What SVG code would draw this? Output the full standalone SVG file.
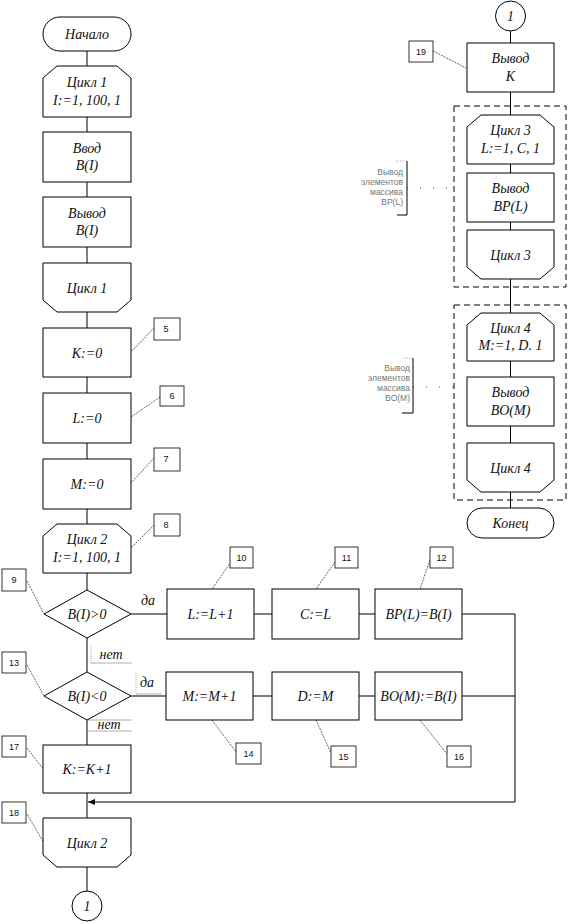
<svg xmlns="http://www.w3.org/2000/svg" width="569" height="924" viewBox="0 0 569 924">
<style>
.b{fill:#fff;stroke:#000;stroke-width:1}
.t{font-family:"Liberation Serif","Times New Roman",serif;font-style:italic;font-size:14px;text-anchor:middle;fill:#111}
.n{font-family:"Liberation Sans",Arial,sans-serif;font-size:9px;text-anchor:middle;fill:#111}
.lb{fill:#fff;stroke:#000;stroke-width:0.8}
.ld{stroke:#222;stroke-width:0.7;stroke-dasharray:2 1;fill:none}
.c{stroke:#000;stroke-width:1;fill:none}
.g{stroke:#999;stroke-width:0.8;fill:none}
.gd{stroke:#999;stroke-width:0.8;stroke-dasharray:1 1;fill:none}
.dash{fill:none;stroke:#000;stroke-width:1;stroke-dasharray:6 4}
.ann{font-family:"Liberation Sans",Arial,sans-serif;font-size:8.5px;fill:#777;text-anchor:end}
.dot{stroke:#444;stroke-width:1;stroke-dasharray:1 12;fill:none}
</style>
<defs>
<marker id="arr" markerWidth="8" markerHeight="6" refX="7" refY="3" orient="auto" markerUnits="userSpaceOnUse">
<path d="M0,0 L7,3 L0,6 Z" fill="#000"/>
</marker>
</defs>

<g id="connectors">
<path class="c" d="M87,51 V66 M87,117 V132 M87,182 V197 M87,247 V263 M87,312 V328 M87,377 V393 M87,443 V459 M87,509 V524 M87,573 V590 M87,638 V672 M87,720 V745 M87,793 V818 M87,867 V891"/>
<path class="c" d="M131,614 H167 M254,614 H272 M359,614 H375 M462,614 H515 V802 H88" marker-end="url(#arr)"/>
<path class="c" d="M131,696 H166 M253,696 H272 M359,696 H375 M462,696 H515"/>
<path class="c" d="M510.5,31 V43 M510.5,92 V115 M510.5,164 V173 M510.5,222 V230 M510.5,279 V313 M510.5,361 V377 M510.5,426 V443 M510.5,492 V508"/>
<path class="g" d="M91,663 H132 M136,694 H162 M87,720 H132 M87,731 H132"/>
<path class="gd" d="M91,646 V663 M136,673 V694"/>
<path class="ld" d="M154,328 L131,352 M160,397 L131,417 M154,458 L131,483 M154,525 L131,548 M27,581 L44,614 M231,562 L212,589 M335,562 L316,589 M430,560 L420,589 M27,665 L44,696 M212,720 L236,752 M316,720 L331,753 M420,720 L447,754 M27,748 L44,770 M27,814 L44,843 M433,51 L466,68"/>
<path class="dot" d="M407,188 H454 M413,387 H454"/>
<path class="gd" d="M396,161 H407"/>
<path class="c" d="M407,161 V215 H397"/>
<path class="gd" d="M403,358 H413"/>
<path class="c" d="M413,358 V413 H402"/>
</g>

<g id="start"><rect class="b" x="43" y="17" width="88" height="34" rx="17"/><text class="t" x="87" y="39">Начало</text></g>
<g id="loop1"><path class="b" d="M43,78 L57,66 H117 L131,78 V117 H43 Z"/><text class="t" x="87" y="87">Цикл 1</text><text class="t" x="87" y="104.5">I:=1, 100, 1</text></g>
<g id="input"><rect class="b" x="43" y="132" width="88" height="50"/><text class="t" x="87" y="152.5">Ввод</text><text class="t" x="87" y="170">B(I)</text></g>
<g id="output1"><rect class="b" x="43" y="197" width="88" height="50"/><text class="t" x="87" y="217.5">Вывод</text><text class="t" x="87" y="235">B(I)</text></g>
<g id="loop1end"><path class="b" d="M43,263 H131 V300 L117,312 H57 L43,300 Z"/><text class="t" x="87" y="292.5">Цикл 1</text></g>
<g id="k0"><rect class="b" x="43" y="328" width="88" height="49"/><text class="t" x="87" y="357.5">K:=0</text><rect class="lb" x="154" y="318" width="26" height="22"/><text class="n" x="166" y="332">5</text></g>
<g id="l0"><rect class="b" x="43" y="393" width="88" height="50"/><text class="t" x="87" y="423">L:=0</text><rect class="lb" x="160" y="386" width="24" height="20"/><text class="n" x="172" y="399">6</text></g>
<g id="m0"><rect class="b" x="43" y="459" width="88" height="50"/><text class="t" x="87" y="489">M:=0</text><rect class="lb" x="154" y="448" width="26" height="23"/><text class="n" x="166" y="462">7</text></g>
<g id="loop2"><path class="b" d="M43,536 L57,524 H117 L131,536 V573 H43 Z"/><text class="t" x="87" y="544">Цикл 2</text><text class="t" x="87" y="561.5">I:=1, 100, 1</text><rect class="lb" x="154" y="514" width="26" height="22"/><text class="n" x="166" y="528">8</text></g>
<g id="dec1"><path class="b" d="M87,590 L131,614 L87,638 L44,614 Z"/><text class="t" x="87" y="619">B(I)&gt;0</text><rect class="lb" x="2" y="569" width="24" height="22"/><text class="n" x="14" y="583">9</text><text class="t" x="148" y="605">да</text><text class="t" x="111" y="659">нет</text></g>
<g id="lplus"><rect class="b" x="167" y="589" width="87" height="50"/><text class="t" x="210.5" y="619">L:=L+1</text><rect class="lb" x="230" y="547" width="23" height="21"/><text class="n" x="241.5" y="560.5">10</text></g>
<g id="cl"><rect class="b" x="272" y="589" width="87" height="50"/><text class="t" x="315.5" y="619">C:=L</text><rect class="lb" x="335" y="547" width="23" height="21"/><text class="n" x="346.5" y="560.5">11</text></g>
<g id="bp"><rect class="b" x="375" y="589" width="87" height="50"/><text class="t" x="418.5" y="619">BP(L)=B(I)</text><rect class="lb" x="430" y="547" width="23" height="21"/><text class="n" x="441.5" y="560.5">12</text></g>
<g id="dec2"><path class="b" d="M87,672 L131,696 L87,720 L44,696 Z"/><text class="t" x="87" y="701">B(I)&lt;0</text><rect class="lb" x="2" y="652" width="24" height="21"/><text class="n" x="14" y="665.5">13</text><text class="t" x="147" y="687">да</text><text class="t" x="109" y="729">нет</text></g>
<g id="mplus"><rect class="b" x="166" y="672" width="87" height="48"/><text class="t" x="209.5" y="701">M:=M+1</text><rect class="lb" x="236" y="743" width="25" height="21"/><text class="n" x="248.5" y="756.5">14</text></g>
<g id="dm"><rect class="b" x="272" y="672" width="87" height="48"/><text class="t" x="315.5" y="701">D:=M</text><rect class="lb" x="331" y="746" width="25" height="21"/><text class="n" x="343.5" y="759.5">15</text></g>
<g id="bo"><rect class="b" x="375" y="672" width="87" height="48"/><text class="t" x="418.5" y="701">BO(M):=B(I)</text><rect class="lb" x="447" y="746" width="24" height="21"/><text class="n" x="459" y="759.5">16</text></g>
<g id="kplus"><rect class="b" x="43" y="745" width="88" height="48"/><text class="t" x="87" y="774">K:=K+1</text><rect class="lb" x="2" y="736" width="24" height="21"/><text class="n" x="14" y="749.5">17</text></g>
<g id="loop2end"><path class="b" d="M43,818 H131 V855 L117,867 H57 L43,855 Z"/><text class="t" x="87" y="847.5">Цикл 2</text><rect class="lb" x="2" y="802" width="24" height="21"/><text class="n" x="14" y="815.5">18</text></g>
<g id="conn1"><circle class="b" cx="87" cy="906" r="15"/><text class="t" x="87" y="911">1</text></g>

<g id="conn2"><circle class="b" cx="510.5" cy="16" r="15"/><text class="t" x="510.5" y="21">1</text></g>
<g id="outk"><rect class="b" x="467" y="43" width="87" height="49"/><text class="t" x="510.5" y="63">Вывод</text><text class="t" x="510.5" y="80.5">K</text><rect class="lb" x="409" y="41" width="24" height="21"/><text class="n" x="421" y="54.5">19</text></g>
<g id="grp1"><rect class="dash" x="454" y="106" width="112" height="181"/>
<text class="ann" x="403" y="175">Вывод</text><text class="ann" x="403" y="185">элементов</text><text class="ann" x="403" y="195">массива</text><text class="ann" x="403" y="205">BP(L)</text></g>
<g id="loop3"><path class="b" d="M467,127 L481,115 H540 L554,127 V164 H467 Z"/><text class="t" x="510.5" y="135">Цикл 3</text><text class="t" x="510.5" y="152.5">L:=1, C, 1</text></g>
<g id="outbp"><rect class="b" x="467" y="173" width="87" height="49"/><text class="t" x="510.5" y="193">Вывод</text><text class="t" x="510.5" y="210.5">BP(L)</text></g>
<g id="loop3end"><path class="b" d="M467,230 H554 V267 L540,279 H481 L467,267 Z"/><text class="t" x="510.5" y="259.5">Цикл 3</text></g>
<g id="grp2"><rect class="dash" x="454" y="305" width="112" height="195"/>
<text class="ann" x="410" y="371">Вывод</text><text class="ann" x="410" y="381">элементов</text><text class="ann" x="410" y="391">массива</text><text class="ann" x="410" y="401">BO(M)</text></g>
<g id="loop4"><path class="b" d="M467,325 L481,313 H540 L554,325 V361 H467 Z"/><text class="t" x="510.5" y="332.5">Цикл 4</text><text class="t" x="510.5" y="350">M:=1, D. 1</text></g>
<g id="outbo"><rect class="b" x="467" y="377" width="87" height="49"/><text class="t" x="510.5" y="397">Вывод</text><text class="t" x="510.5" y="414.5">BO(M)</text></g>
<g id="loop4end"><path class="b" d="M467,443 H554 V480 L540,492 H481 L467,480 Z"/><text class="t" x="510.5" y="472.5">Цикл 4</text></g>
<g id="end"><rect class="b" x="467" y="508" width="87" height="30" rx="15"/><text class="t" x="510.5" y="528">Конец</text></g>
</svg>
